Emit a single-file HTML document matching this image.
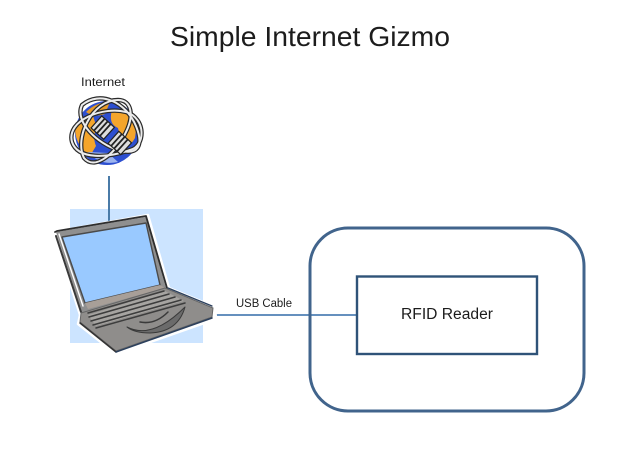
<!DOCTYPE html>
<html><head><meta charset="utf-8"><title>Simple Internet Gizmo</title>
<style>html,body{margin:0;padding:0;background:#fff;width:620px;height:465px;overflow:hidden}svg{display:block}text{font-family:"Liberation Sans",sans-serif;fill:#1c1c1c}</style></head>
<body>
<svg width="620" height="465" viewBox="0 0 620 465" xmlns="http://www.w3.org/2000/svg">
<text x="170" y="46" font-size="28" textLength="280" lengthAdjust="spacingAndGlyphs">Simple Internet Gizmo</text>
<text x="81" y="86" font-size="11.5" textLength="44" lengthAdjust="spacingAndGlyphs" fill="#333">Internet</text>
<text x="236" y="307" font-size="11.5" textLength="56" lengthAdjust="spacingAndGlyphs">USB Cable</text>

<rect x="70" y="209" width="133" height="134" fill="#cce4ff"/>
<line x1="109" y1="176" x2="109" y2="223" stroke="#4a7ba8" stroke-width="2"/>
<line x1="216" y1="315" x2="357" y2="315" stroke="#4f81b5" stroke-width="1.7"/>
<rect x="310" y="228" width="274" height="183" rx="38" fill="none" stroke="#41648c" stroke-width="3"/>
<rect x="357" y="276.5" width="180" height="77.5" fill="#fff" stroke="#2f5378" stroke-width="2.4"/>
<text x="401" y="319" font-size="15.5" textLength="92" lengthAdjust="spacingAndGlyphs">RFID Reader</text>

<!-- globe -->
<g>
<circle cx="107" cy="133" r="32" fill="#2d4fd0"/>
<path d="M75 130Q80 118 93 116L97 128Q92 136 96 146L90 156Q76 146 75 130Z" fill="#f4a52c"/>
<path d="M112 110Q130 106 137 122L135 138Q128 150 122 146L118 128Q108 124 112 110Z" fill="#f4a52c"/>
<path d="M86 112Q96 102 110 102L105 114Q94 118 86 112Z" fill="#e79a28"/>
<path d="M88 152Q100 166 118 162L108 153Z" fill="#9db4ee"/>
<g fill="none" stroke="#2a2a2a" stroke-width="4.4">
<path d="M72 142C66 120 104 106 126 112C146 118 146 146 130 150C108 158 78 160 72 142Z"/>
<path d="M82 105C100 90 126 102 136 126C144 146 138 156 118 150C98 144 74 122 82 105Z"/>
<path d="M84 158C74 138 92 100 118 100C132 100 134 116 126 132C118 150 96 172 84 158Z"/>
</g>
<g fill="none" stroke="#ececec" stroke-width="2">
<path d="M72 142C66 120 104 106 126 112C146 118 146 146 130 150C108 158 78 160 72 142Z"/>
<path d="M82 105C100 90 126 102 136 126C144 146 138 156 118 150C98 144 74 122 82 105Z"/>
<path d="M84 158C74 138 92 100 118 100C132 100 134 116 126 132C118 150 96 172 84 158Z"/>
</g>
<g transform="rotate(42 112 136)">
<rect x="91" y="128" width="17" height="16" fill="#ddd" stroke="#222" stroke-width="1.2"/>
<rect x="114" y="128" width="17" height="16" fill="#ddd" stroke="#222" stroke-width="1.2"/>
<path d="M95 128v16M99 128v16M103 128v16M118 128v16M122 128v16M126 128v16" stroke="#222" stroke-width="1.8"/>
</g>
</g>

<!-- laptop -->
<g stroke-linejoin="round" stroke-linecap="round">
<path d="M54 232L148 215L169 288L215 307L216 319L116 354L78 324L80 315Z" fill="#fff" stroke="#fff" stroke-width="2.5"/>
<path d="M56 232L146 217L166 288L82 313Z" fill="#8f8f8f"/>
<path d="M55 232L57 231L146 216L167 288" fill="none" stroke="#2e2e2e" stroke-width="1.8"/>
<path d="M56 236L81 312" stroke="#3a3a3a" stroke-width="2" fill="none"/>
<path d="M59 234L83 306" stroke="#fff" stroke-width="1.4" fill="none"/>
<path d="M62 237L146 223L160 285L85 303Z" fill="#99c9ff" stroke="#4a4a4a" stroke-width="1.4"/>
<path d="M85 303L160 285L165 288L88 309Z" fill="#a89f98"/>
<path d="M81 313L165 288L213 308L212 317L116 351L80 322Z" fill="#8f8d8b" stroke="#666" stroke-width="1"/>
<path d="M88 315L165 291L184 301L96 326Z" fill="#a6a4a1"/>
<path d="M88 313L164 291M89 317L169 294M91 321L175 297M93 325L181 300M96 328L185 303" stroke="#3d3d3d" stroke-width="1.5" fill="none"/>
<path d="M127 327Q152 340 185 307Q178 332 150 333Q134 333 127 327Z" fill="#6b6b6b" stroke="#3a3a3a" stroke-width="1"/>
<path d="M140 322Q155 325 168 312" stroke="#3a3a3a" stroke-width="1.5" fill="none"/>
<path d="M80 323L116 352" stroke="#333" stroke-width="1.5" fill="none"/>
<path d="M116 352L212 318" stroke="#2b3f5c" stroke-width="1.5" fill="none"/>
<path d="M168 288L212 306" stroke="#2b3f5c" stroke-width="1.3" fill="none"/>
</g>
</svg>
</body></html>
